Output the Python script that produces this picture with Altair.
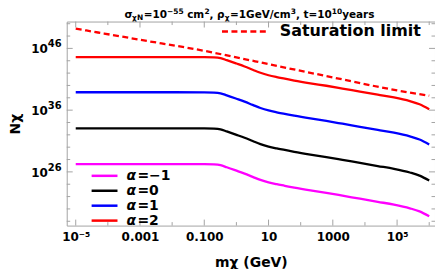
import altair as alt
import pandas as pd

# ---------------- data ----------------
masses = [1e-5, 1e-4, 1e-3, 1e-2, 0.1, 0.2, 0.32, 0.5, 1, 1.8, 3.2, 5.6, 10, 18, 32,
          63, 200, 630, 2000, 7000, 25000, 80000, 250000, 500000, 1e6]
# log10(N_chi) for each alpha
logN_m1 = [27.25, 27.25, 27.25, 27.25, 27.24, 27.2, 27.08, 26.75, 26.2, 25.72, 25.2, 24.7,
           24.3, 24.0, 23.75, 23.45, 23.0, 22.6, 22.15, 21.65, 21.15, 20.7, 20.1, 19.6, 18.8]
logN_0 = [33.05, 33.05, 33.05, 33.05, 33.04, 33.0, 32.88, 32.55, 32.0, 31.52, 31.0, 30.5,
          30.1, 29.8, 29.55, 29.25, 28.8, 28.4, 27.95, 27.45, 26.95, 26.5, 25.9, 25.4, 24.6]
logN_1 = [38.9, 38.9, 38.9, 38.9, 38.89, 38.85, 38.73, 38.4, 37.85, 37.37, 36.85, 36.35,
          35.95, 35.65, 35.4, 35.1, 34.65, 34.25, 33.8, 33.3, 32.8, 32.35, 31.75, 31.25, 30.45]
logN_2 = [44.6, 44.6, 44.6, 44.6, 44.59, 44.55, 44.43, 44.1, 43.55, 43.07, 42.55, 42.05,
          41.65, 41.35, 41.1, 40.8, 40.35, 39.95, 39.5, 39.0, 38.5, 38.05, 37.45, 36.95, 36.15]
series_names = ["α=−1", "α=0", "α=1", "α=2"]
series_colors = ["#ff00ff", "#000000", "#0000ff", "#ff0000"]
series_values = [logN_m1, logN_0, logN_1, logN_2]

sat_masses = [1e-5, 1e-3, 0.1, 1, 10, 1000, 1e5, 1e6]
sat_logN = [49.2, 47.4, 45.6, 44.55, 43.45, 41.3, 39.2, 38.35]

x_label_vals = [1e-5, 1e-3, 0.1, 10, 1000, 1e5]
x_label_text = ["10⁻⁵", "0.001", "0.100", "10", "1000", "10⁵"]
x_minor_vals = [1e-4, 1e-2, 1, 100, 1e4, 1e6]
y_label_vals = [1e26, 1e36, 1e46]
y_label_exps = ["26", "36", "46"]
y_minor_vals = [1e18, 1e20, 1e22, 1e24, 1e28, 1e30, 1e32, 1e34, 1e38, 1e40, 1e42, 1e44, 1e48, 1e50]

# ---------------- build ----------------
FONT = "DejaVu Sans"
GRAY = "#a3a3a3"
W, H = 370, 205

rows = []
for name, vals in zip(series_names, series_values):
    for m, e in zip(masses, vals):
        rows.append({"m": m, "N": 10.0 ** e, "series": name})
df = pd.DataFrame(rows)
sat = pd.DataFrame({"m": sat_masses, "N": [10.0 ** e for e in sat_logN]})

xscale = alt.Scale(type="log", domain=[10 ** -5.28, 10 ** 6.18], nice=False)
yscale = alt.Scale(type="log", domain=[10 ** 17.3, 10 ** 50.35], nice=False)


def label_expr(vals, texts):
    expr = "''"
    for v, t in reversed(list(zip(vals, texts))):
        expr = f"datum.value < {v * 3:g} ? '{t}' : ({expr})"
    return expr


xaxis = alt.Axis(values=x_label_vals, labelExpr=label_expr(x_label_vals, x_label_text),
                 ticks=False, domain=False, grid=False, labelFont=FONT, labelFontWeight="bold",
                 labelFontSize=12, labelColor="black", labelPadding=6, labelFlush=False,
                 labelOverlap=False, title="mχ (GeV)", titleFont=FONT, titleFontSize=14,
                 titleFontWeight="bold", titleColor="black", titleY=37, titleBaseline="middle")
yaxis = alt.Axis(values=y_label_vals, labels=False, ticks=False, domain=False, grid=False,
                 title="Nχ", titleFont=FONT, titleFontSize=14, titleFontWeight="bold",
                 titleColor="black", titleX=-51, titleBaseline="middle")

lines = alt.Chart(df).mark_line(strokeWidth=2.3, interpolate="monotone").encode(
    x=alt.X("m:Q", scale=xscale, axis=xaxis),
    y=alt.Y("N:Q", scale=yscale, axis=yaxis),
    color=alt.Color("series:N", scale=alt.Scale(domain=series_names, range=series_colors), legend=None),
    detail="series:N",
)
satline = alt.Chart(sat).mark_line(strokeWidth=2.3, color="#ff0000", strokeDash=[6, 3.5],
                                   interpolate="monotone").encode(
    x=alt.X("m:Q", scale=xscale), y=alt.Y("N:Q", scale=yscale))

# y tick labels as 10 + superscript exponent
ylab = pd.DataFrame({"N": y_label_vals, "exp": y_label_exps})
ybase = alt.Chart(ylab).mark_text(text="10", font=FONT, fontSize=12, fontWeight="bold", align="right",
                                  baseline="middle", color="black", dy=1).encode(
    y=alt.Y("N:Q", scale=yscale), x=alt.value(-19))
yexp = alt.Chart(ylab).mark_text(font=FONT, fontSize=10, fontWeight="bold", align="left",
                                 baseline="middle", color="black", dy=-4).encode(
    y=alt.Y("N:Q", scale=yscale), x=alt.value(-19), text="exp:N")


def xticks(vals, length):
    d = pd.DataFrame({"m": vals})
    b = alt.Chart(d).mark_rule(color=GRAY, strokeWidth=1).encode(
        x=alt.X("m:Q", scale=xscale), y=alt.value(H), y2=alt.value(H - length))
    t = alt.Chart(d).mark_rule(color=GRAY, strokeWidth=1).encode(
        x=alt.X("m:Q", scale=xscale), y=alt.value(0), y2=alt.value(length))
    return [b, t]


def yticks(vals, length):
    d = pd.DataFrame({"N": vals})
    l = alt.Chart(d).mark_rule(color=GRAY, strokeWidth=1).encode(
        y=alt.Y("N:Q", scale=yscale), x=alt.value(0), x2=alt.value(length))
    r = alt.Chart(d).mark_rule(color=GRAY, strokeWidth=1).encode(
        y=alt.Y("N:Q", scale=yscale), x=alt.value(W), x2=alt.value(W - length))
    return [l, r]


EMPTY = alt.Data(values=[{}])


def txt(s, x, y, size, weight="bold", style="normal", baseline="alphabetic"):
    return alt.Chart(EMPTY).mark_text(text=s, font=FONT, fontSize=size, fontWeight=weight,
                                      fontStyle=style, align="left", baseline=baseline,
                                      color="black").encode(x=alt.value(x), y=alt.value(y))


def seg(x1, x2, y, color, dash=None):
    kw = {"strokeDash": dash} if dash else {}
    return alt.Chart(EMPTY).mark_rule(color=color, strokeWidth=2.5, **kw).encode(
        x=alt.value(x1), x2=alt.value(x2), y=alt.value(y))


# title pieces (main 10.5px, sub/superscripts 7.5px)
MB, SUP, SUB = -4, -7.5, -1.5
M, S = 10.5, 7.5
title = [
    txt("σ", 58, MB, M), txt("χN", 65.7, SUB, S), txt("=10", 77.3, MB, M),
    txt("−55", 100.7, SUP, S), txt("cm", 121.0, MB, M), txt("2", 138.3, SUP, S),
    txt(",", 143.5, MB, M), txt("ρ", 151.1, MB, M), txt("χ", 158.8, SUB, S),
    txt("=1GeV/cm", 164.1, MB, M), txt("3", 225.1, SUP, S), txt(",", 230.3, MB, M),
    txt("t=10", 237.9, MB, M), txt("10", 266.3, SUP, S), txt("years", 276.7, MB, M),
]

legend = [seg(156, 201, 10, "#ff0000", [6, 3.5]), txt("Saturation limit", 214, 10, 16, baseline="middle")]
leg_y = [155, 170, 185, 200]
for name, col, yy in zip(series_names, series_colors, leg_y):
    legend.append(seg(25, 51, yy, col))
    legend.append(txt("α", 60, yy, 14, style="italic", baseline="middle"))
    legend.append(txt(name[1:], 71, yy, 14, baseline="middle"))

layers = [lines, satline, ybase, yexp]
layers += xticks(x_label_vals, 6) + xticks(x_minor_vals, 3.5)
layers += yticks(y_label_vals, 6) + yticks(y_minor_vals, 3.5)
layers += title + legend

chart = alt.layer(*layers).properties(
    width=W, height=H, autosize=alt.AutoSizeParams(type="none"),
    padding={"left": 59, "top": 13, "right": 0, "bottom": 43},
).configure_view(stroke=GRAY, strokeWidth=1)

chart.save("out.html", embed_options={"renderer": "svg", "actions": False})
